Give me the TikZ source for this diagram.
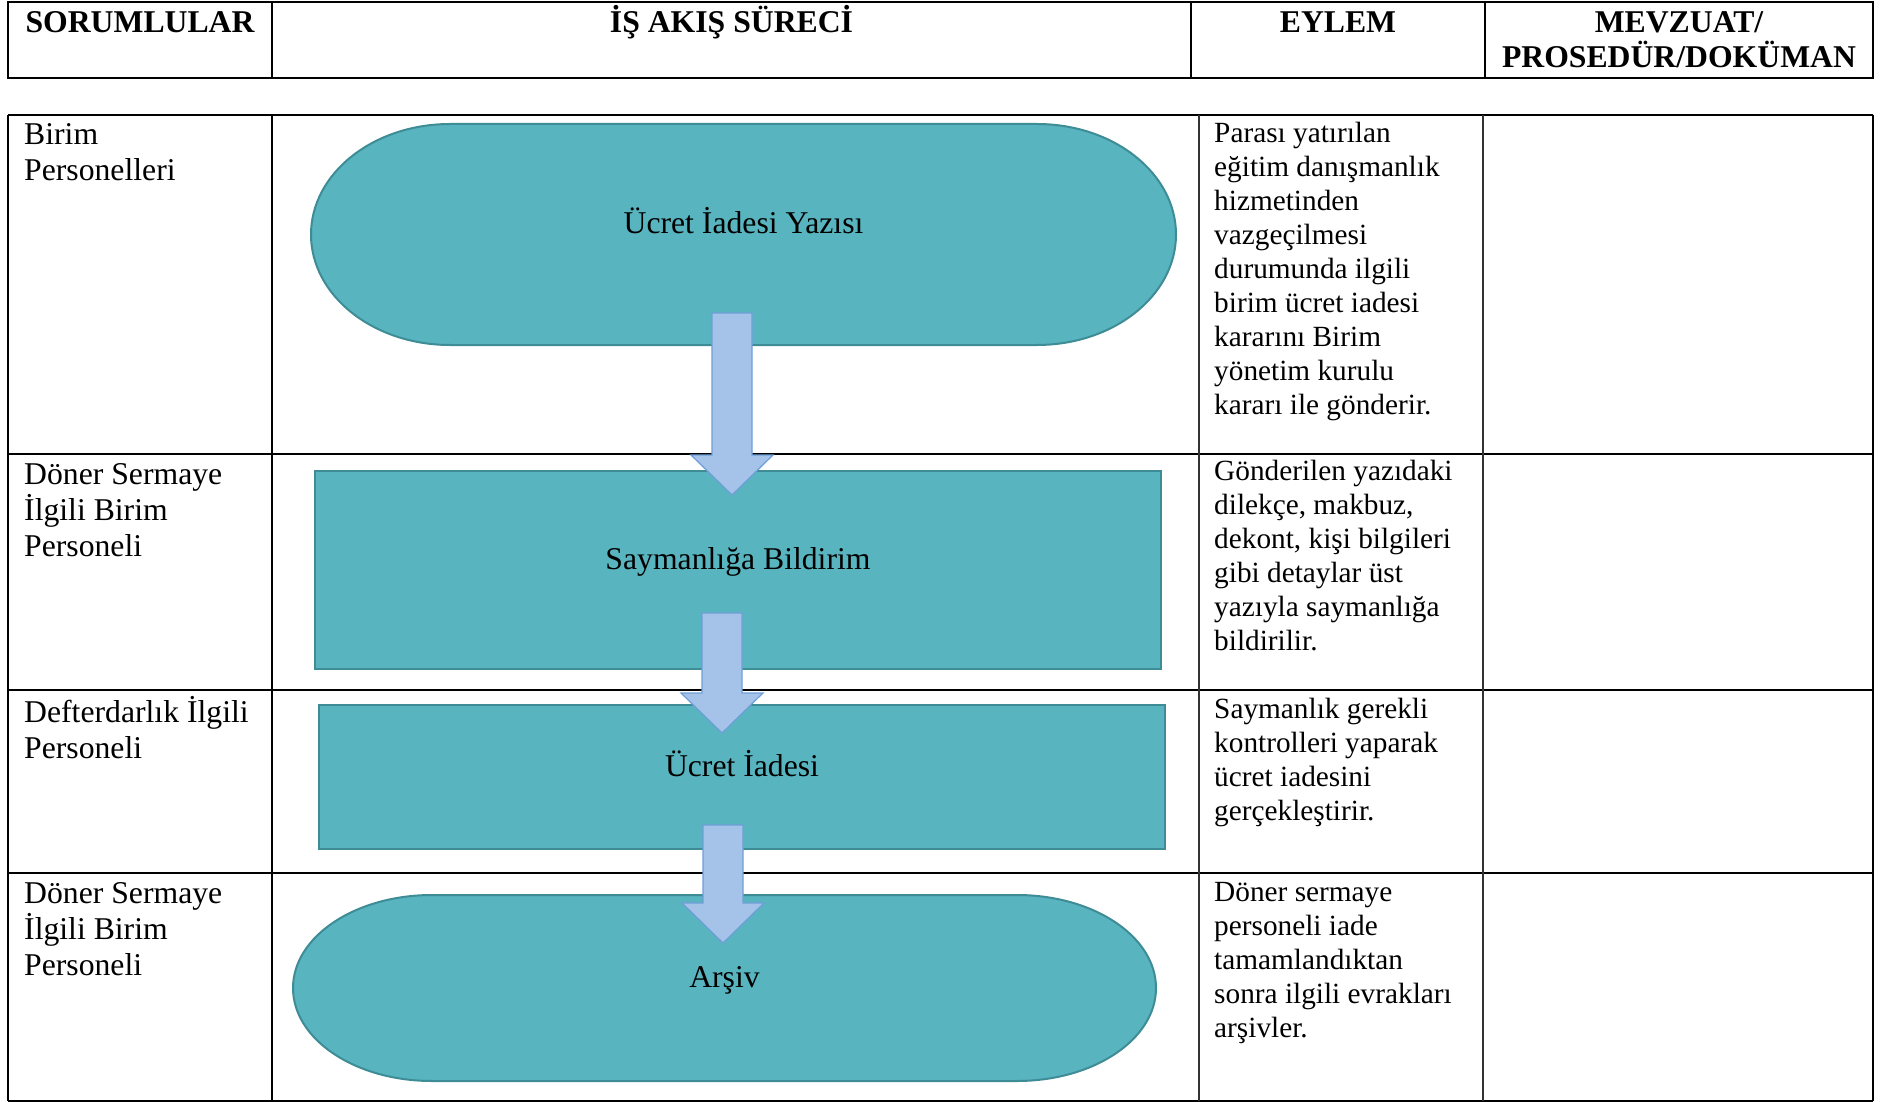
\documentclass[tikz,border=0pt]{standalone}
\usepackage{fontspec}
\setmainfont{Liberation Serif}
\usetikzlibrary{calc,backgrounds}

\definecolor{tealfill}{RGB}{88,180,191}
\definecolor{tealline}{RGB}{62,140,150}
\definecolor{arrowfill}{RGB}{165,195,232}
\definecolor{arrowline}{RGB}{110,158,216}

\newcommand{\terminatorpath}[3]{%
	\path[fill=tealfill, draw=tealline, line width=2pt]
		($(#1.north west)+(#2pt,0)$) -- ($(#1.north east)+(-#2pt,0)$)
		arc[start angle=90, end angle=-90, x radius=#2pt, y radius=#3pt]
		-- ($(#1.south west)+(#2pt,0)$)
		arc[start angle=270, end angle=90, x radius=#2pt, y radius=#3pt] -- cycle;}

\begin{document}
\begin{tikzpicture}[x=1pt, y=-1pt,
	bigtext/.style={font=\fontsize{31.7}{36}\selectfont, inner sep=0pt},
	headtext/.style={font=\fontsize{31.7}{35}\selectfont\bfseries, inner sep=0pt, align=center, anchor=base},
	lefttext/.style={bigtext, align=left, anchor=base west},
	acttext/.style={font=\fontsize{29.3}{34}\selectfont, inner sep=0pt, align=left, anchor=base west},
	flowbox/.style={bigtext, outer sep=0pt, text height=24pt, text depth=26pt},
	rectbox/.style={flowbox, fill=tealfill, draw=tealline, line width=2pt},
	blockarrow/.style={draw=arrowline, fill=arrowfill, line width=1.2pt, line join=miter,
		to path={let \p1=(\tikztostart), \p2=(\tikztotarget) in
			(\x1-20pt,\y1) -- (\x1+20pt,\y1) -- (\x1+20pt,\y2+40pt) -- (\x1+41pt,\y2+40pt)
			-- (\x1,\y2) -- (\x1-41pt,\y2+40pt) -- (\x1-20pt,\y2+40pt) -- cycle}}]
		\useasboundingbox (0,0) rectangle (1883,1102);
		%Header
		\draw[line width=2pt] (8,2) rectangle (1873,78);
		\foreach \x in {272,1191,1485}
			\draw[line width=1.8pt] (\x,2) -- (\x,78);
		\node[headtext] (h1) at (140,32.5) {SORUMLULAR};
		\node[headtext] (h2) at (731.5,32.5) {İŞ AKIŞ SÜRECİ};
		\node[headtext] (h3) at (1338,32.5) {EYLEM};
		\node[headtext] (h4) at (1679,67.5) {MEVZUAT/\\PROSEDÜR/DOKÜMAN};
		%Table
		\foreach \y in {115,454,690,873,1101}
			\draw[line width=2pt] (8,\y) -- (1873,\y);
		\foreach \x in {8,272,1873}
			\draw[line width=2pt] (\x,115) -- (\x,1101);
		\foreach \x in {1199,1483}
			\draw[line width=1.5pt, black!80] (\x,115) -- (\x,1101);
		%Responsible (placed at the baseline of the last line)
		\node[lefttext] (s1) at (24,181) {Birim\\Personelleri};
		\node[lefttext] (s2) at (24,556) {Döner Sermaye\\İlgili Birim\\Personeli};
		\node[lefttext] (s3) at (24,758) {Defterdarlık İlgili\\Personeli};
		\node[lefttext] (s4) at (24,975) {Döner Sermaye\\İlgili Birim\\Personeli};
		%Actions
		\node[acttext] (e1) at (1214,414) {Parası yatırılan\\eğitim danışmanlık\\hizmetinden\\vazgeçilmesi\\durumunda ilgili\\birim ücret iadesi\\kararını Birim\\yönetim kurulu\\kararı ile gönderir.};
		\node[acttext] (e2) at (1214,650) {Gönderilen yazıdaki\\dilekçe, makbuz,\\dekont, kişi bilgileri\\gibi detaylar üst\\yazıyla saymanlığa\\bildirilir.};
		\node[acttext] (e3) at (1214,820) {Saymanlık gerekli\\kontrolleri yaparak\\ücret iadesini\\gerçekleştirir.};
		\node[acttext] (e4) at (1214,1037) {Döner sermaye\\personeli iade\\tamamlandıktan\\sonra ilgili evrakları\\arşivler.};
		%Flow
		\node[flowbox, minimum width=865pt, minimum height=221pt] (yazi) at (743.5,234.5) {Ücret İadesi Yazısı};
		\node[rectbox, minimum width=846pt, minimum height=198pt] (bildirim) at (738,570) {Saymanlığa Bildirim};
		\node[rectbox, minimum width=846pt, minimum height=144pt] (iade) at (742,777) {Ücret İadesi};
		\node[flowbox, minimum width=863pt, minimum height=186pt] (arsiv) at (724.5,988) {Arşiv};
		\begin{scope}[on background layer]
			\terminatorpath{yazi}{139}{110.5}
			\terminatorpath{arsiv}{139}{93}
		\end{scope}
		%Arrows
		\draw[blockarrow] ($(yazi.south)+(-11.5,-32)$) to ($(bildirim.north)+(-6,24)$);
		\draw[blockarrow] ($(bildirim.south)+(-16,-56)$) to ($(iade.north)+(-20,28)$);
		\draw[blockarrow] ($(iade.south)+(-19,-24)$) to ($(arsiv.north)+(-1.5,48)$);
\end{tikzpicture}
\end{document}
